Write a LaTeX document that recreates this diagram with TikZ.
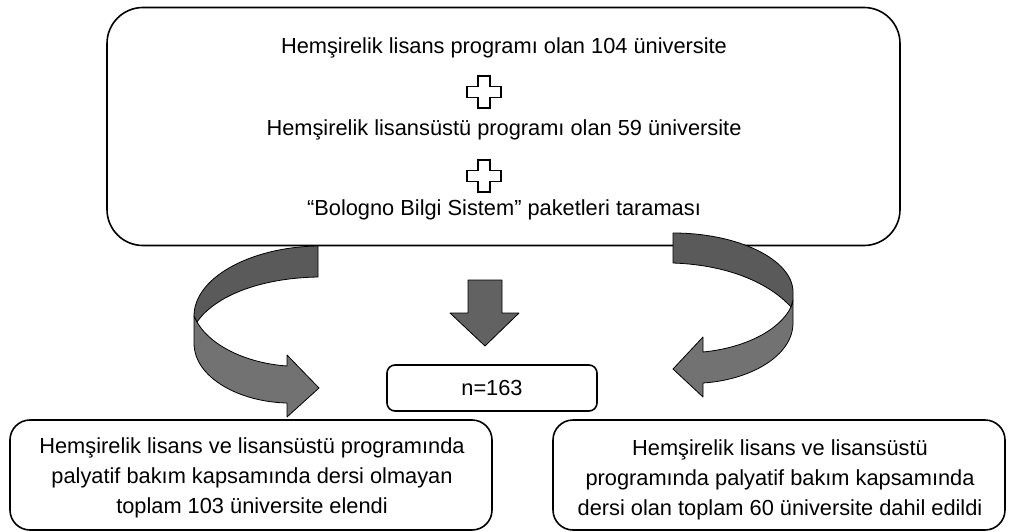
\documentclass[tikz,border=0pt]{standalone}
\usepackage{fontspec}
\setmainfont{Liberation Sans}
\definecolor{arrowdark}{HTML}{5A5A5A}
\definecolor{arrowlight}{HTML}{727272}
\definecolor{arrowmid}{HTML}{626262}
\begin{document}
\begin{tikzpicture}[x=1pt,y=-1pt,
  box/.style={draw, line width=1.6pt, inner sep=0pt},
  txt/.style={font=\fontsize{21.8}{30}\selectfont, align=center, inner sep=0pt},
  blockarrow/.style={draw=black, line width=0.8pt, line join=round},
  plussign/.pic={
    \draw[line width=1.8pt, fill=white, line join=miter]
      (-6,-16) -- (6,-16) -- (6,-5.5) -- (17,-5.5) -- (17,5.5) -- (6,5.5)
      -- (6,16) -- (-6,16) -- (-6,5.5) -- (-17,5.5) -- (-17,-5.5) -- (-6,-5.5) -- cycle;
  }]
\useasboundingbox (0,0) rectangle (1009,532);

% top box
\node[box, rounded corners=36pt, minimum width=793pt, minimum height=238pt] (top) at (503.5,126.5) {};
\node[txt] (l1) at (504,48) {Hemşirelik lisans programı olan 104 üniversite};
\pic (p1) at (484,92) {plussign};
\node[txt] (l2) at (504,130) {Hemşirelik lisansüstü programı olan 59 üniversite};
\pic (p2) at (484,176) {plussign};
\node[txt] (l3) at (504,210) {“Bologno Bilgi Sistem” paketleri taraması};

% n box
\node[box, rounded corners=8pt, minimum width=210pt, minimum height=46pt] (n) at (492,388) {};
\node[txt] (nt) at (492,388) {n=163};

% bottom boxes
\node[box, rounded corners=20pt, minimum width=482pt, minimum height=110pt] (left) at (251,475) {};
\node[txt] (lt) at (252,478) {Hemşirelik lisans ve lisansüstü programında\\palyatif bakım kapsamında dersi olmayan\\toplam 103 üniversite elendi};
\node[box, rounded corners=20pt, minimum width=452pt, minimum height=110pt] (right) at (779,475) {};
\node[txt] (rt) at (780,480) {Hemşirelik lisans ve lisansüstü\\programında palyatif bakım kapsamında\\dersi olan toplam 60 üniversite dahil edildi};

% down arrow
\draw[blockarrow, fill=arrowmid] (468,280) -- (502,280) -- (502,313) -- (519,313)
  -- (485,346) -- (450,313) -- (468,313) -- cycle;

% left curved arrow
\draw[blockarrow, fill=arrowlight] (194,316) -- (194,343)
  .. controls (194,378) and (240,402) .. (287,403) -- (287,417) -- (319,388)
  -- (287,355) -- (287,366) .. controls (245,363) and (210,345) .. (197,322) -- cycle;
\draw[blockarrow, fill=arrowdark] (318,246) .. controls (250,247) and (194,278) .. (194,316)
  -- (197,322) .. controls (215,296) and (260,278) .. (318,277) -- cycle;

% right curved arrow
\draw[blockarrow, fill=arrowlight] (793,300) -- (793,323)
  .. controls (793,356) and (750,380) .. (703,383) -- (703,397) -- (673,369)
  -- (703,337) -- (703,352) .. controls (745,348) and (780,330) .. (791,307) -- cycle;
\draw[blockarrow, fill=arrowdark] (673,233) .. controls (739,233) and (793,260) .. (793,292)
  -- (793,300) -- (791,307) .. controls (770,284) and (730,265) .. (673,263) -- cycle;
\end{tikzpicture}
\end{document}
